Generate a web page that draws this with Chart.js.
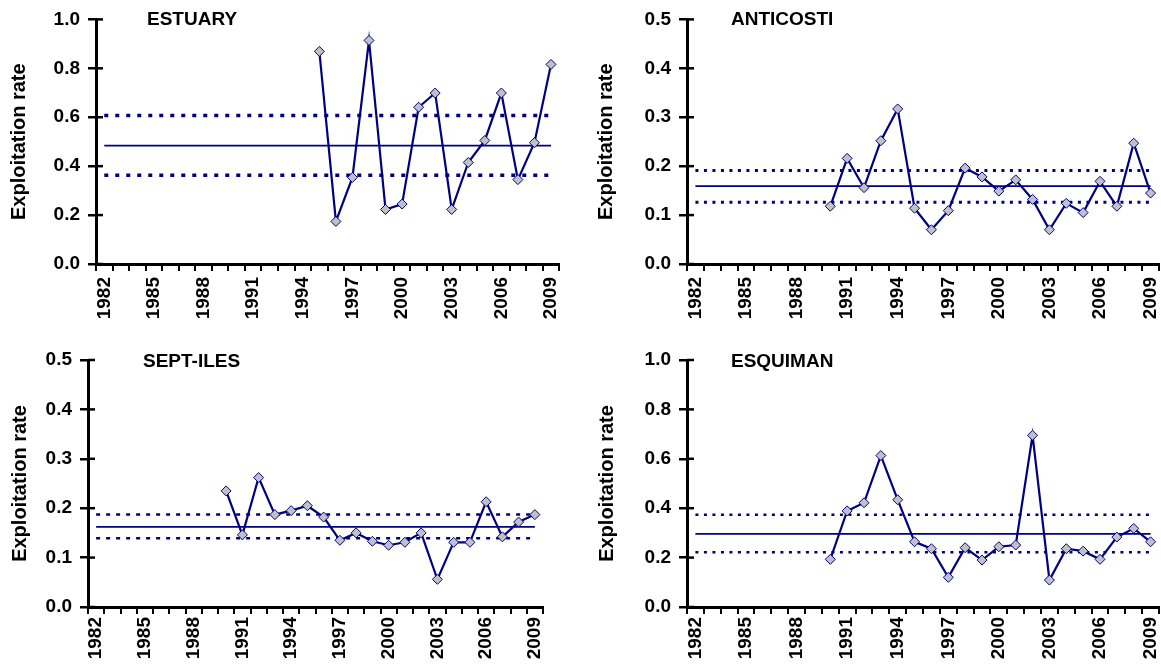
<!DOCTYPE html>
<html>
<head>
<meta charset="utf-8">
<script src="https://cdn.jsdelivr.net/npm/chart.js@4.4.0/dist/chart.umd.min.js"></script>
<style>
  body { margin: 0; width: 1161px; height: 667px; overflow: hidden; background: #fff; position: relative; }
  .panel { position: absolute; }
  .ttl { position: absolute; font: bold 19px/19px "Liberation Sans", Arial, sans-serif; color: #000; white-space: nowrap; }
</style>
</head>
<body>
<div class="panel" style="left:0;top:0;width:580px;height:330px"><canvas id="estuary"></canvas></div>
<div class="panel" style="left:580px;top:0;width:620px;height:330px"><canvas id="anticosti"></canvas></div>
<div class="panel" style="left:0;top:330px;width:580px;height:337px"><canvas id="septiles"></canvas></div>
<div class="panel" style="left:580px;top:330px;width:620px;height:337px"><canvas id="esquiman"></canvas></div>
<div class="ttl" style="left:147px;top:9px">ESTUARY</div>
<div class="ttl" style="left:731px;top:9px">ANTICOSTI</div>
<div class="ttl" style="left:143px;top:351px">SEPT-ILES</div>
<div class="ttl" style="left:731px;top:351px">ESQUIMAN</div>
<script>
const years = ['1982','1983','1984','1985','1986','1987','1988','1989','1990','1991',
               '1992','1993','1994','1995','1996','1997','1998','1999','2000','2001',
               '2002','2003','2004','2005','2006','2007','2008','2009'];

// exploitation rate, first value is the start year
const estuaryStart = 1995;
const estuaryRate = [0.869, 0.174, 0.354, 0.914, 0.223, 0.245, 0.641, 0.699, 0.223, 0.415,
                     0.505, 0.699, 0.345, 0.496, 0.816];
const anticostiStart = 1990;
const anticostiRate = [0.118, 0.216, 0.156, 0.252, 0.317, 0.114, 0.070, 0.109, 0.196, 0.178,
                       0.149, 0.172, 0.132, 0.070, 0.124, 0.105, 0.169, 0.118, 0.247, 0.145];
const septIlesStart = 1990;
const septIlesRate = [0.235, 0.146, 0.262, 0.187, 0.195, 0.205, 0.182, 0.135, 0.150, 0.133,
                      0.125, 0.131, 0.150, 0.056, 0.131, 0.131, 0.213, 0.142, 0.172, 0.187];
const esquimanStart = 1990;
const esquimanRate = [0.193, 0.389, 0.422, 0.613, 0.434, 0.264, 0.236, 0.120, 0.240, 0.190,
                      0.244, 0.251, 0.695, 0.109, 0.236, 0.226, 0.193, 0.283, 0.318, 0.264];

// mean and lower / upper reference levels
const estuaryRef = [0.484, 0.363, 0.607];
const anticostiRef = [0.159, 0.126, 0.191];
const septIlesRef = [0.162, 0.139, 0.187];
const esquimanRef = [0.296, 0.222, 0.373];

const yMax = { estuary: 1.0, anticosti: 0.5, septiles: 0.5, esquiman: 1.0 };
const yStep = { estuary: 0.2, anticosti: 0.1, septiles: 0.1, esquiman: 0.2 };

const navy = '#000080';
const font = { family: '"Liberation Sans", Arial, sans-serif', size: 19, weight: 'bold' };

// short tick marks on the inner side of the y axis
const crossTicks = {
  id: 'crossTicks',
  afterDatasetsDraw(chart) {
    const y = chart.scales.y, ctx = chart.ctx, left = chart.chartArea.left;
    ctx.save();
    ctx.strokeStyle = '#000';
    ctx.lineWidth = 2.5;
    y.ticks.forEach((t, i) => {
      const py = y.getPixelForTick(i);
      ctx.beginPath();
      ctx.moveTo(left, py);
      ctx.lineTo(left + 7, py);
      ctx.stroke();
    });
    ctx.restore();
  }
};

function makePanel(id, start, rate, ref, opt) {
  const pts = rate.map((v, i) => ({ x: String(start + i), y: v }));
  const flat = v => [{ x: years[0], y: v }, { x: years[years.length - 1], y: v }];
  new Chart(document.getElementById(id), {
    type: 'line',
    data: {
      labels: years,
      datasets: [
        {
          data: pts, borderColor: navy, borderWidth: 2.2, order: 0, clip: false,
          pointStyle: 'rectRot', pointRadius: 5, pointBackgroundColor: '#c0c0c8',
          pointBorderColor: navy, pointBorderWidth: 1
        },
        { data: flat(ref[0]), borderColor: navy, borderWidth: 1.8, pointRadius: 0, order: 1 },
        { data: flat(ref[1]), borderColor: navy, borderWidth: opt.dotW, borderDash: opt.dash, pointRadius: 0, order: 2 },
        { data: flat(ref[2]), borderColor: navy, borderWidth: opt.dotW, borderDash: opt.dash, pointRadius: 0, order: 3 }
      ]
    },
    options: {
      responsive: true,
      maintainAspectRatio: false,
      animation: false,
      layout: { padding: { top: opt.top, right: opt.right, left: 0, bottom: 0 } },
      plugins: { legend: { display: false }, tooltip: { enabled: false } },
      scales: {
        x: {
          type: 'category',
          offset: true,
          grid: { offset: true, drawOnChartArea: false, drawTicks: true, tickLength: 7, color: '#000', lineWidth: 2 },
          border: { display: true, color: '#000', width: 3 },
          ticks: {
            autoSkip: false, minRotation: 90, maxRotation: 90, padding: opt.xp, color: '#000', font: font,
            callback: (v, i) => (i % 3 === 0 ? years[i] : '')
          },
          afterFit: s => { s.height = opt.xh; }
        },
        y: {
          min: 0,
          max: yMax[id],
          grid: { drawOnChartArea: false, drawTicks: true, tickLength: 8, color: '#000', lineWidth: 2.5 },
          border: { display: true, color: '#000', width: 3 },
          ticks: { stepSize: yStep[id], padding: 8, color: '#000', font: font, callback: v => v.toFixed(1) },
          title: { display: true, text: 'Exploitation rate', color: '#000', font: { ...font, size: 20 }, padding: { top: opt.tp, bottom: 0 } },
          afterFit: s => { s.width = opt.yw; }
        }
      }
    },
    plugins: [crossTicks]
  });
}

makePanel('estuary', estuaryStart, estuaryRate, estuaryRef,
  { top: 16, right: 12, xh: 66, yw: 96, tp: 7, xp: 6, dotW: 3.5, dash: [4, 7] });
makePanel('anticosti', anticostiStart, anticostiRate, anticostiRef,
  { top: 16, right: 41, xh: 66, yw: 107, tp: 14, xp: 6, dotW: 3, dash: [3, 5.5] });
makePanel('septiles', septIlesStart, septIlesRate, septIlesRef,
  { top: 30, right: 37, xh: 60, yw: 88, tp: 8, xp: 3, dotW: 2.5, dash: [4, 6] });
makePanel('esquiman', esquimanStart, esquimanRate, esquimanRef,
  { top: 30, right: 41, xh: 60, yw: 107, tp: 15, xp: 3, dotW: 2.5, dash: [3, 5.5] });
</script>
</body>
</html>
